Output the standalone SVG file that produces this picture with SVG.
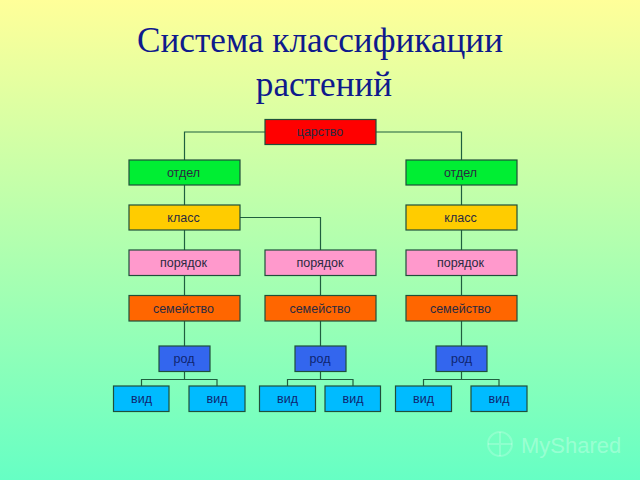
<svg xmlns="http://www.w3.org/2000/svg" width="640" height="480" viewBox="0 0 640 480">
<defs>
<linearGradient id="bg" x1="0" y1="0" x2="0" y2="1"><stop offset="0" stop-color="#ffff99"/><stop offset="1" stop-color="#66ffc4"/></linearGradient>
</defs>
<style>
.n{stroke:#1f4f3a;stroke-width:1.2}
.t{font-family:"Liberation Sans",Arial,sans-serif;font-size:12.5px;text-anchor:middle;fill:#2a2a40}
.d{fill:#0f2570}
.h{font-family:"Liberation Serif","Times New Roman",serif;font-size:35.2px;text-anchor:middle;fill:#0f1a8c}
.c{fill:none;stroke:#1f5f3f;stroke-width:1.2}
.red{fill:#ff0000}.green{fill:#00ee33}.yel{fill:#ffcc00}.pink{fill:#ff99cc}.or{fill:#ff6600}.blue{fill:#3366ee}.cy{fill:#00bbff}
</style>
<rect width="640" height="480" fill="url(#bg)"/>
<text class="h" x="320" y="52">Система классификации</text>
<text class="h" x="324" y="96">растений</text>
<g id="connectors" class="c">
<path class="c" d="M265 132H184.500V160M376 132H461.500V160"/>
<path class="c" d="M184.500 185V346M240 217.500H320.500V346M461.500 185V346"/>
<path class="c" d="M184.500 371.500V379.500M141.500 386V379.500H217V386"/>
<path class="c" d="M320.500 371.500V379.500M287.500 386V379.500H353V386"/>
<path class="c" d="M461.500 371.500V379.500M423.500 386V379.500H499V386"/>
</g>
<g id="kingdom"><rect class="n red" x="265" y="119.500" width="111" height="25"/><text class="t" x="320" y="136">царство</text></g>
<g id="division-1"><rect class="n green" x="129" y="160" width="111" height="25"/><text class="t" x="183.500" y="177">отдел</text></g>
<g id="division-2"><rect class="n green" x="406" y="160" width="111" height="25"/><text class="t" x="460.500" y="177">отдел</text></g>
<g id="class-1"><rect class="n yel" x="129" y="205" width="111" height="25"/><text class="t" x="183.500" y="222">класс</text></g>
<g id="class-2"><rect class="n yel" x="406" y="205" width="111" height="25"/><text class="t" x="460.500" y="222">класс</text></g>
<g id="order-1"><rect class="n pink" x="129" y="250" width="111" height="25.500"/><text class="t" x="183.500" y="267">порядок</text></g>
<g id="order-2"><rect class="n pink" x="265" y="250" width="111" height="25.500"/><text class="t" x="320" y="267">порядок</text></g>
<g id="order-3"><rect class="n pink" x="406" y="250" width="111" height="25.500"/><text class="t" x="460.500" y="267">порядок</text></g>
<g id="family-1"><rect class="n or" x="129" y="295.500" width="111" height="25.500"/><text class="t" x="183.500" y="312.500">семейство</text></g>
<g id="family-2"><rect class="n or" x="265" y="295.500" width="111" height="25.500"/><text class="t" x="320" y="312.500">семейство</text></g>
<g id="family-3"><rect class="n or" x="406" y="295.500" width="111" height="25.500"/><text class="t" x="460.500" y="312.500">семейство</text></g>
<g id="genus-1"><rect class="n blue" x="159" y="346" width="51" height="25.500"/><text class="t d" x="184" y="363">род</text></g>
<g id="genus-2"><rect class="n blue" x="295" y="346" width="51" height="25.500"/><text class="t d" x="320" y="363">род</text></g>
<g id="genus-3"><rect class="n blue" x="436" y="346" width="51" height="25.500"/><text class="t d" x="461.500" y="363">род</text></g>
<g id="species-1"><rect class="n cy" x="113.500" y="386" width="55.500" height="25.500"/><text class="t d" x="141.500" y="403">вид</text></g>
<g id="species-2"><rect class="n cy" x="189" y="386" width="56" height="25.500"/><text class="t d" x="217" y="403">вид</text></g>
<g id="species-3"><rect class="n cy" x="259.500" y="386" width="56" height="25.500"/><text class="t d" x="287.500" y="403">вид</text></g>
<g id="species-4"><rect class="n cy" x="325" y="386" width="55.500" height="25.500"/><text class="t d" x="353" y="403">вид</text></g>
<g id="species-5"><rect class="n cy" x="395.500" y="386" width="56" height="25.500"/><text class="t d" x="423.500" y="403">вид</text></g>
<g id="species-6"><rect class="n cy" x="471" y="386" width="56" height="25.500"/><text class="t d" x="499" y="403">вид</text></g>
<text x="521" y="453" font-family="'Liberation Sans',Arial,sans-serif" font-size="22" fill="#ffffff" fill-opacity="0.3">MyShared</text>
<g fill="none" stroke="#ffffff" stroke-opacity="0.2" stroke-width="2"><circle cx="500" cy="444" r="12"/><path d="M488 444H512M500 432V456"/></g>
</svg>
